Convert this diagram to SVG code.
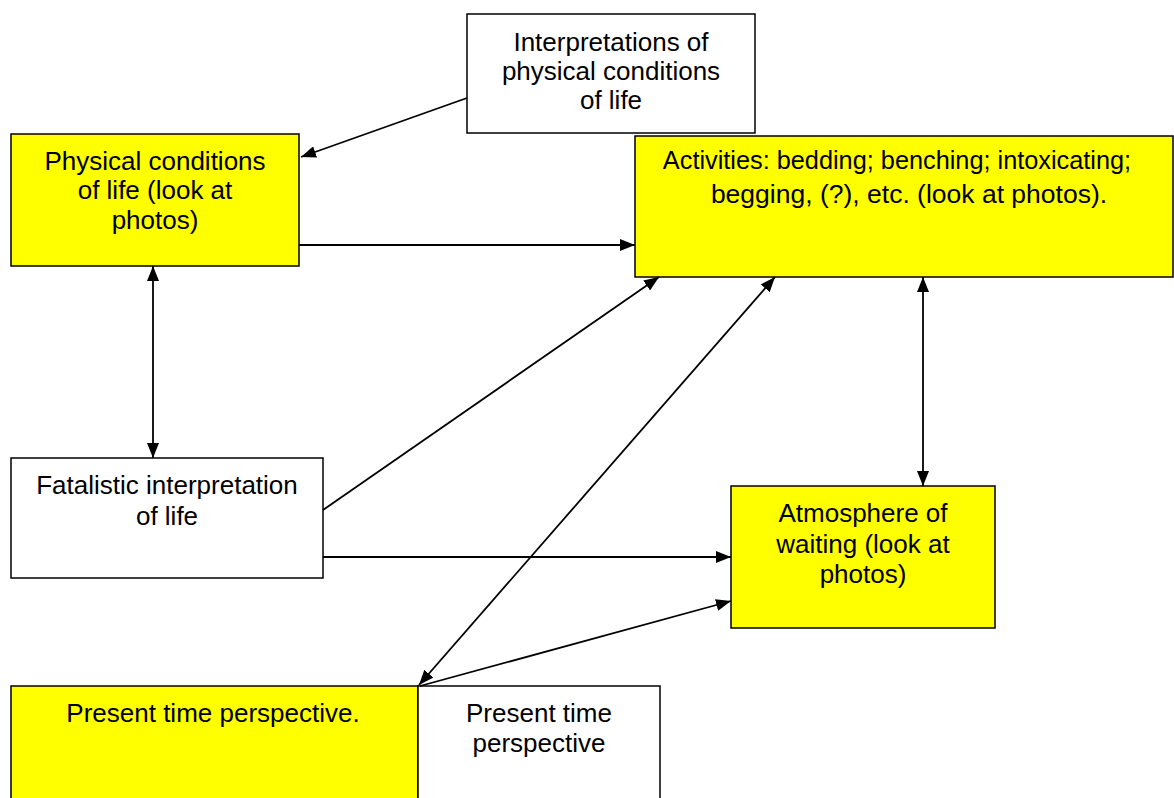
<svg xmlns="http://www.w3.org/2000/svg" width="1174" height="798" viewBox="0 0 1174 798">
<style>
.box{stroke:#000;stroke-width:1.5}
.y{fill:#ffff00}
.w{fill:#fff}
text{font-family:"Liberation Sans",Arial,sans-serif;font-size:26px;fill:#000;text-anchor:middle}
.s{font-size:25.3px}
.c{stroke:#000;stroke-width:1.8;fill:none}
</style>
<defs>
<marker id="ah" viewBox="0 0 15 12" refX="15" refY="6" markerWidth="15" markerHeight="12" markerUnits="userSpaceOnUse" orient="auto-start-reverse">
<path d="M0,0 L15,6 L0,12 z" fill="#000"/>
</marker>
</defs>
<rect width="1174" height="798" fill="#fff"/>
<g id="interp">
<rect class="box w" x="467" y="14" width="288" height="119"/>
<text x="611" y="51">Interpretations of</text>
<text x="611" y="80">physical conditions</text>
<text x="611" y="109">of life</text>
</g>
<g id="physical">
<rect class="box y" x="11" y="134" width="288" height="132"/>
<text x="155" y="170">Physical conditions</text>
<text x="155" y="199">of life (look at</text>
<text x="155" y="229">photos)</text>
</g>
<g id="activities">
<rect class="box y" x="635" y="136" width="538" height="141"/>
<text class="s" x="897" y="169">Activities: bedding; benching; intoxicating;</text>
<text x="909" y="203" style="font-size:26.5px">begging, (?), etc. (look at photos).</text>
</g>
<g id="fatalistic">
<rect class="box w" x="11" y="458" width="312" height="120"/>
<text x="167" y="494">Fatalistic interpretation</text>
<text x="167" y="525">of life</text>
</g>
<g id="atmosphere">
<rect class="box y" x="731" y="486" width="264" height="142"/>
<text x="863" y="522">Atmosphere of</text>
<text x="863" y="553">waiting (look at</text>
<text x="863" y="583">photos)</text>
</g>
<g id="present1">
<rect class="box y" x="11" y="686" width="407" height="120"/>
<text x="213" y="722">Present time perspective.</text>
</g>
<g id="present2">
<rect class="box w" x="418" y="686" width="242" height="120"/>
<text x="539" y="722">Present time</text>
<text x="539" y="752">perspective</text>
</g>
<g id="connectors">
<line class="c" x1="467" y1="98" x2="301" y2="157" marker-end="url(#ah)"/>
<line class="c" x1="299" y1="245" x2="635" y2="245" marker-end="url(#ah)"/>
<line class="c" x1="153" y1="266" x2="153" y2="458" marker-start="url(#ah)" marker-end="url(#ah)"/>
<line class="c" x1="323" y1="510" x2="659" y2="277" marker-end="url(#ah)"/>
<line class="c" x1="419" y1="685" x2="775" y2="277" marker-start="url(#ah)" marker-end="url(#ah)"/>
<line class="c" x1="923" y1="277" x2="923" y2="486" marker-start="url(#ah)" marker-end="url(#ah)"/>
<line class="c" x1="323" y1="557" x2="731" y2="557" marker-end="url(#ah)"/>
<line class="c" x1="420" y1="686" x2="731" y2="601" marker-end="url(#ah)"/>
</g>
</svg>
